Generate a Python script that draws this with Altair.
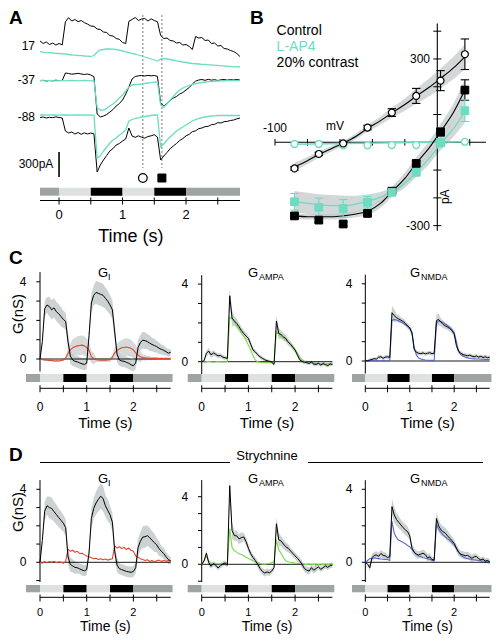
import altair as alt
import pandas as pd

M = 8
FONT = "Liberation Sans"
INK = "#000000"
TEAL = "#6cdcc2"
RED = "#e5452d"
GREEN = "#7cd948"
BLUE = "#5868c9"
BANDC = "#c3c9c9"

# ---------------- stimulus ----------------
STIM_LEVELS = ["mean", "bright", "dark"]
STIM_COLORS = ["#9ea4a4", "#dde1e1", "#000000"]
STIM_LEVEL = ["mean", "bright", "dark", "bright", "dark", "mean"]
STIM_START = [-0.3, 0.0, 0.5, 1.0, 1.5, 2.0]
STIM_END_A = [0.0, 0.5, 1.0, 1.5, 2.0, 2.85]
STIM_END_G = [0.0, 0.5, 1.0, 1.5, 2.0, 2.84]
TIME_TICKS = [0.0, 0.5, 1.0, 1.5, 2.0, 2.5]
TIME_LABELS = [0, 1, 2]

# ---------------- panel A (pA, relative to holding level) ----------------
T_A = [round(-0.3 + 0.05 * i, 2) for i in range(64)]
A_HOLD = ["17", "-37", "-88"]
A_P17_CTRL = [60, 30, 48, 18, 36, 12, 30, 14, 290, 340,
              300, 318, 292, 306, 280, 262, 240, 236, 204, 198,
              168, 162, 126, 120, 90, 80, 42, 30, 296, 318,
              342, 306, 324, 330, 300, 326, 306, 292, 126, 90,
              96, 66, 60, 36, 42, 12, 18, -6, -42, 114,
              96, 102, 66, 72, 30, 36, 0, 6, -30, -36,
              -54, -66, -90, -126]
A_P17_LAP4 = [-68, -74, -78, -80, -84, -88, -90, -94, -96, -102,
              -108, -110, -114, -116, -120, -122, -126, -114, -72, -48,
              -42, -36, -36, -38, -42, -50, -60, -70, -78, -88,
              -96, -108, -120, -132, -144, -156, -168, -180, -156, -150,
              -156, -162, -168, -178, -186, -192, -198, -204, -210, -213,
              -216, -220, -221, -226, -227, -232, -233, -238, -239, -244,
              -245, -250, -249, -253]
A_M37_CTRL = [-8, -4, -12, -6, -10, -2, -8, -6, 84, 78,
              70, 74, 80, 72, 66, 72, 60, 40, -408, -444,
              -432, -414, -384, -354, -312, -282, -240, -168, -84, 12,
              42, 50, 54, 48, 56, 50, 54, 44, -276, -312,
              -282, -246, -216, -198, -168, -150, -120, -90, -48, -14,
              0, 6, -4, 8, -2, 4, -6, 2, 6, -2,
              4, 0, 6, -2]
A_M37_LAP4 = [-6, -8, -10, -6, -8, -10, -8, -8, -10, -8,
              -6, -8, -10, -8, -6, -8, -10, -8, -336, -360,
              -362, -340, -312, -288, -252, -216, -180, -132, -84, -60,
              -54, -52, -48, -42, -36, -32, -26, -24, -300, -324,
              -288, -240, -198, -156, -120, -96, -78, -66, -54, -44,
              -36, -30, -24, -20, -18, -15, -12, -10, -9, -8,
              -8, -8, -8, -8]
A_M88_CTRL = [-30, -24, -36, -28, -32, -22, -30, -36, -192, -216,
              -204, -228, -210, -232, -214, -228, -216, -226, -684, -600,
              -540, -486, -432, -402, -360, -342, -312, -288, -156, -252,
              -268, -250, -266, -278, -258, -250, -236, -266, -540, -492,
              -450, -404, -372, -342, -306, -282, -250, -232, -200, -190,
              -164, -156, -140, -136, -116, -112, -92, -96, -80, -76,
              -66, -60, -46, -36]
A_M88_LAP4 = [0, 2, -2, 0, 2, 0, -2, 0, 2, 0,
              -2, 0, 2, 0, -2, 0, 0, -4, -516, -492,
              -432, -384, -336, -300, -276, -240, -216, -180, -72, -54,
              -42, -34, -24, -18, -12, -6, 0, 0, -384, -348,
              -300, -264, -228, -192, -168, -144, -120, -96, -72, -56,
              -42, -32, -24, -18, -12, -10, -6, -6, -6, -4,
              -6, -4, -6, -6]
A_CURSOR_T = [1.32, 1.62]
A_SCALEBAR_PA = 300

# ---------------- panel B (I-V) ----------------
B_V = [-88, -73, -58, -43, -28, -13, 2, 17]
B_CTRL_OPEN = [-94, -42, -4, 53, 107, 167, 222, 317]
B_CTRL_OPEN_ERR = [6, 6, 5, 8, 14, 27, 36, 55]
B_LAP4_OPEN = [-6, -6, -11, -11, -10, -10, -4, 2]
B_CTRL_SQ = [-265, -280, -294, -256, -176, -76, 37, 188]
B_CTRL_SQ_ERR = [8, 8, 8, 8, 8, 10, 14, 37]
B_LAP4_SQ = [-214, -234, -238, -216, -180, -108, -1, 114]
B_LAP4_SQ_ERR = [30, 33, 32, 21, 10, 10, 14, 39]
B_VFIT = [-88, -80, -73, -65, -58, -50, -43, -35, -28, -20, -13, -5, 2, 10, 17]
B_FIT_OPEN = [-88, -66, -44, -22, -3, 22, 50, 78, 106, 136, 166, 198, 230, 268, 308]
B_FIT_OPEN_HW = [15, 13, 12, 10, 9, 10, 12, 15, 18, 22, 27, 32, 36, 40, 45]
B_FIT_SQ = [-265, -268, -268, -268, -265, -258, -248, -220, -178, -130, -76, -20, 38, 108, 188]
B_FIT_SQ_HW = [10, 10, 10, 10, 10, 12, 14, 16, 18, 20, 22, 25, 28, 32, 38]
B_FIT_SQ_LAP4 = [-213, -220, -225, -228, -228, -222, -212, -197, -178, -148, -108, -58, -5, 50, 110]
B_FIT_SQ_LAP4_HW = [38, 38, 38, 38, 36, 30, 24, 18, 15, 15, 17, 20, 24, 30, 38]
B_VFIT_FLAT = [-88, 17]
B_FIT_OPEN_LAP4 = [-7, 2]
B_XTICKS = [-100, -80, -60, -40, -20, 20]
B_YTICKS = [-300, -200, -100, 100, 200, 300, 400]
B_LEGEND = ["Control", "L-AP4", "20% contrast"]

# ---------------- panels C / D (nS) ----------------
T_G = [round(0.05 * i, 2) for i in range(57)]
C_GI_CTRL = [0.0, 0.9, 2.6, 2.8, 2.72, 2.55, 2.65, 2.45, 2.35, 2.2,
             2.05, 1.95, 0.9, 0.15, -0.05, -0.12, -0.15, -0.2, -0.25, -0.28,
             -0.22, 1.2, 2.9, 3.3, 3.45, 3.4, 3.35, 3.3, 3.15, 3.0,
             2.8, 2.55, 1.4, 0.25, -0.05, -0.1, -0.12, -0.17, -0.22, -0.3,
             -0.35, -0.2, 0.6, 0.85, 0.98, 0.95, 0.9, 0.82, 0.75, 0.7,
             0.64, 0.56, 0.5, 0.45, 0.38, 0.3, 0.35]
C_GI_OTHER = [0.0, -0.03, -0.05, -0.06, -0.08, -0.07, -0.1, -0.09, -0.1, -0.08,
              -0.05, 0.05, 0.3, 0.47, 0.58, 0.64, 0.68, 0.7, 0.72, 0.68,
              0.6, 0.45, 0.12, 0.02, -0.04, -0.05, -0.06, -0.05, -0.06, -0.05,
              -0.04, 0.1, 0.32, 0.45, 0.52, 0.58, 0.6, 0.62, 0.6, 0.55,
              0.47, 0.32, 0.2, 0.12, 0.08, 0.06, 0.05, 0.04, 0.03, 0.03,
              0.04, 0.02, 0.03, 0.02, 0.03, 0.02, 0.03]
C_AMPA_CTRL = [0.0, 0.05, 0.43, 0.55, 0.35, 0.45, 0.38, 0.3, 0.32, 0.24,
               0.2, 0.17, 3.4, 2.25, 2.1, 1.97, 1.8, 1.6, 1.45, 1.32,
               1.2, 0.9, 0.6, 0.5, 0.36, 0.25, 0.17, 0.1, 0.05, 0.02,
               -0.03, -0.14, 2.1, 1.45, 1.4, 1.28, 1.2, 1.02, 0.9, 0.75,
               0.6, 0.35, 0.1, 0.02, -0.03, -0.05, -0.09, -0.02, -0.12, -0.14,
               -0.08, -0.17, -0.1, -0.15, -0.2, -0.12, -0.14]
C_AMPA_OTHER = [0.0, -0.02, 0.0, 0.02, 0.0, -0.02, 0.0, 0.01, 0.0, -0.01,
                0.0, 0.01, 2.3, 2.2, 2.05, 1.85, 1.65, 1.48, 1.3, 1.1,
                0.85, 0.6, 0.3, 0.08, 0.0, -0.03, -0.05, -0.05, -0.06, -0.05,
                -0.05, -0.04, 1.55, 1.4, 1.3, 1.22, 1.12, 1.02, 0.93, 0.8,
                0.62, 0.45, 0.25, 0.1, 0.0, -0.05, -0.07, -0.08, -0.1, -0.09,
                -0.1, -0.11, -0.1, -0.12, -0.1, -0.11, -0.1]
C_NMDA_CTRL = [0.0, 0.02, 0.05, 0.08, 0.12, 0.1, 0.2, 0.22, 0.14, 0.2,
               0.22, 0.18, 2.5, 2.35, 2.25, 2.18, 2.12, 2.05, 1.95, 1.82,
               1.72, 1.45, 0.6, 0.45, 0.4, 0.38, 0.42, 0.37, 0.4, 0.43,
               0.38, 0.4, 2.1, 2.15, 2.02, 1.9, 1.82, 1.76, 1.68, 1.58,
               1.4, 0.8, 0.5, 0.4, 0.33, 0.3, 0.27, 0.3, 0.25, 0.22,
               0.26, 0.2, 0.24, 0.18, 0.22, 0.17, 0.2]
C_NMDA_OTHER = [0.0, 0.01, 0.0, 0.02, 0.01, 0.02, 0.0, 0.01, 0.02, 0.01,
                0.0, 0.01, 2.1, 2.15, 2.12, 2.08, 2.02, 1.96, 1.88, 1.8,
                1.68, 1.48, 0.7, 0.3, 0.16, 0.1, 0.07, 0.05, 0.04, 0.03,
                0.03, 0.02, 1.95, 2.08, 2.05, 2.0, 1.92, 1.84, 1.74, 1.62,
                1.48, 1.0, 0.5, 0.33, 0.25, 0.2, 0.16, 0.14, 0.12, 0.11,
                0.1, 0.1, 0.09, 0.09, 0.08, 0.08, 0.08]
D_GI_CTRL = [0.0, 1.2, 2.8, 3.1, 3.0, 2.95, 2.78, 2.62, 2.45, 2.3,
             2.14, 1.9, 0.3, -0.12, -0.2, -0.28, -0.3, -0.36, -0.42, -0.47,
             -0.4, 0.5, 2.4, 2.95, 3.25, 3.45, 3.62, 3.5, 3.1, 2.85,
             2.6, 2.2, 0.6, -0.15, -0.35, -0.4, -0.45, -0.5, -0.52, -0.55,
             -0.5, -0.3, 0.8, 1.15, 1.38, 1.4, 1.46, 1.35, 1.2, 1.08,
             0.95, 0.75, 0.6, 0.48, 0.3, 0.15, 0.08]
D_GI_OTHER = [0.0, -0.05, 0.05, -0.03, 0.04, 0.0, 0.06, -0.02, 0.03, 0.0,
              -0.05, 0.05, 0.72, 0.6, 0.66, 0.55, 0.6, 0.48, 0.5, 0.42,
              0.35, 0.3, 0.25, 0.2, 0.22, 0.15, 0.2, 0.14, 0.18, 0.12,
              0.16, 0.2, 0.9, 0.78, 0.85, 0.75, 0.82, 0.7, 0.78, 0.66,
              0.6, 0.35, 0.28, 0.2, 0.15, 0.1, 0.14, 0.05, 0.1, 0.02,
              0.08, 0.12, 0.05, 0.1, 0.06, 0.1, 0.08]
D_AMPA_CTRL = [0.0, 0.2, 0.65, 0.1, -0.12, 0.05, -0.05, -0.22, -0.08, 0.02,
               0.08, -0.05, 4.65, 2.0, 1.7, 1.68, 1.5, 1.58, 1.62, 1.35,
               0.95, 0.62, 0.4, 0.22, 0.0, -0.25, -0.42, -0.52, -0.45, -0.5,
               -0.4, -0.2, 2.4, 1.45, 1.38, 1.2, 1.04, 0.95, 0.8, 0.65,
               0.5, 0.35, 0.2, 0.0, -0.25, -0.35, -0.4, -0.2, -0.35, -0.25,
               -0.15, -0.3, -0.2, -0.1, -0.18, -0.08, -0.05]
D_AMPA_OTHER = [0.0, 0.2, 0.5, 0.2, 0.08, 0.05, 0.03, 0.05, 0.02, 0.05,
                0.08, 0.1, 2.1, 1.0, 0.8, 0.72, 0.62, 0.58, 0.5, 0.42,
                0.35, 0.28, 0.2, 0.15, 0.1, 0.05, 0.02, 0.0, 0.03, 0.05,
                0.1, 0.15, 1.45, 0.85, 0.65, 0.4, 0.2, 0.15, 0.12, 0.1,
                0.08, 0.05, 0.06, 0.03, 0.0, -0.02, 0.02, -0.03, 0.0, -0.05,
                -0.02, -0.04, 0.0, -0.05, -0.02, -0.03, -0.01]
D_NMDA_CTRL = [0.0, -0.1, -0.3, 0.25, 0.38, 0.4, 0.33, 0.48, 0.38, 0.35,
               0.26, 0.3, 3.05, 2.6, 2.35, 2.2, 2.05, 1.9, 1.78, 1.68,
               1.45, 0.78, 0.55, 0.45, 0.4, 0.45, 0.5, 0.42, 0.25, 0.3,
               0.15, 0.12, 2.4, 2.0, 1.78, 1.68, 1.6, 1.45, 1.32, 1.18,
               1.04, 0.78, 0.55, 0.45, 0.4, 0.36, 0.38, 0.3, 0.22, 0.3,
               0.32, 0.2, 0.13, 0.18, 0.07, 0.1, 0.02]
D_NMDA_OTHER = [0.0, 0.1, 0.2, 0.22, 0.25, 0.22, 0.2, 0.18, 0.17, 0.15,
                0.15, 0.1, 2.25, 1.6, 1.35, 1.22, 1.15, 1.08, 1.02, 0.92,
                0.85, 0.7, 0.55, 0.42, 0.35, 0.3, 0.25, 0.22, 0.2, 0.16,
                0.12, 0.08, 2.08, 1.8, 1.65, 1.5, 1.4, 1.3, 1.2, 1.08,
                0.95, 0.75, 0.55, 0.38, 0.3, 0.24, 0.2, 0.18, 0.15, 0.13,
                0.12, 0.1, 0.08, 0.07, 0.06, 0.05, 0.05]
# SEM half-widths, one per 0.1 s
C_GI_HW = [0.05, 0.4, 0.5, 0.5, 0.5, 0.45, 0.4, 0.3, 0.3, 0.3, 0.3, 0.5, 0.6, 0.6, 0.55,
           0.5, 0.4, 0.3, 0.3, 0.3, 0.3, 0.4, 0.43, 0.4, 0.35, 0.3, 0.25, 0.2, 0.15]
C_GI_OTHER_HW = [0.05, 0.05, 0.05, 0.05, 0.05, 0.05, 0.3, 0.45, 0.5, 0.5, 0.45, 0.3, 0.1, 0.1, 0.1,
                 0.1, 0.3, 0.4, 0.45, 0.45, 0.4, 0.3, 0.15, 0.1, 0.08, 0.06, 0.05, 0.05, 0.05]
C_AMPA_HW = [0.05, 0.15, 0.15, 0.12, 0.12, 0.1, 0.4, 0.25, 0.2, 0.18, 0.15, 0.12, 0.1, 0.1, 0.08,
             0.08, 0.3, 0.2, 0.18, 0.15, 0.12, 0.1, 0.1, 0.08, 0.1, 0.1, 0.1, 0.1, 0.1]
C_NMDA_HW = [0.05, 0.08, 0.08, 0.1, 0.1, 0.1, 0.35, 0.2, 0.15, 0.15, 0.15, 0.12, 0.1, 0.1, 0.1,
             0.1, 0.3, 0.2, 0.15, 0.15, 0.15, 0.12, 0.1, 0.1, 0.1, 0.1, 0.1, 0.1, 0.1]
D_GI_HW = [0.05, 0.5, 0.6, 0.55, 0.5, 0.45, 0.4, 0.35, 0.3, 0.3, 0.3, 0.55, 0.65, 0.7, 0.6,
           0.5, 0.4, 0.3, 0.3, 0.3, 0.3, 0.5, 0.6, 0.55, 0.5, 0.4, 0.3, 0.25, 0.2]
D_AMPA_HW = [0.05, 0.2, 0.15, 0.15, 0.15, 0.15, 0.5, 0.3, 0.3, 0.25, 0.2, 0.2, 0.2, 0.2, 0.2,
             0.15, 0.4, 0.3, 0.25, 0.2, 0.2, 0.2, 0.2, 0.2, 0.2, 0.15, 0.15, 0.15, 0.15]
D_NMDA_HW = [0.05, 0.2, 0.2, 0.2, 0.2, 0.15, 0.45, 0.35, 0.3, 0.3, 0.25, 0.2, 0.2, 0.2, 0.2,
             0.15, 0.35, 0.3, 0.3, 0.25, 0.2, 0.2, 0.2, 0.2, 0.2, 0.15, 0.15, 0.15, 0.15]
G_TICKS_C = [0, 1, 2, 3, 4]
G_TICKS_D = [-1, 0, 1, 2, 3, 4]

# ======================= drawing helpers =======================
layers = []


def sc(d0, d1, p0, p1):
    return alt.Scale(domain=[d0, d1], range=[p0 - M, p1 - M], nice=False, zero=False)


def line(x, y, xs, ys, color, width=1.0, dash=None, interp="linear", opacity=1.0):
    df = pd.DataFrame({"x": x, "y": y})
    props = dict(color=color, strokeWidth=width, interpolate=interp, opacity=opacity,
                 strokeJoin="round")
    if dash:
        props["strokeDash"] = dash
    layers.append(alt.Chart(df).mark_line(**props).encode(
        x=alt.X("x:Q", scale=xs, axis=None), y=alt.Y("y:Q", scale=ys, axis=None)))


def band(x, lo, hi, xs, ys, color=BANDC, opacity=0.85, interp="linear"):
    df = pd.DataFrame({"x": x, "lo": lo, "hi": hi})
    layers.append(alt.Chart(df).mark_area(color=color, opacity=opacity, interpolate=interp).encode(
        x=alt.X("x:Q", scale=xs, axis=None), y=alt.Y("lo:Q", scale=ys, axis=None), y2="hi:Q"))


def segs(x1, y1, x2, y2, xs, ys, color=INK, width=1.0, dash=None):
    df = pd.DataFrame({"x1": x1, "y1": y1, "x2": x2, "y2": y2})
    props = dict(color=color, strokeWidth=width)
    if dash:
        props["strokeDash"] = dash
    layers.append(alt.Chart(df).mark_rule(**props).encode(
        x=alt.X("x1:Q", scale=xs, axis=None), y=alt.Y("y1:Q", scale=ys, axis=None),
        x2="x2:Q", y2="y2:Q"))


def texts(x, y, labels, xs, ys, size=12, color=INK, align="center", baseline="middle",
          angle=0, weight="normal"):
    df = pd.DataFrame({"x": x, "y": y, "label": labels})
    layers.append(alt.Chart(df).mark_text(font=FONT, fontSize=size, color=color, align=align,
                                          baseline=baseline, angle=angle, fontWeight=weight).encode(
        x=alt.X("x:Q", scale=xs, axis=None), y=alt.Y("y:Q", scale=ys, axis=None), text="label:N"))


def ptext(px, py, label, size=12, color=INK, align="left", baseline="alphabetic", angle=0,
          weight="normal"):
    df = pd.DataFrame({"label": [label]})
    layers.append(alt.Chart(df).mark_text(font=FONT, fontSize=size, color=color, align=align,
                                          baseline=baseline, angle=angle, fontWeight=weight).encode(
        x=alt.value(px - M), y=alt.value(py - M), text="label:N"))


def prule(px1, px2, py, width=1.0):
    df = pd.DataFrame({"k": [0]})
    layers.append(alt.Chart(df).mark_rule(color=INK, strokeWidth=width).encode(
        x=alt.value(px1 - M), x2=alt.value(px2 - M), y=alt.value(py - M)))


def points(x, y, xs, ys, shape, size, fill, stroke, sw=1.0):
    df = pd.DataFrame({"x": x, "y": y})
    layers.append(alt.Chart(df).mark_point(shape=shape, size=size, filled=True, fill=fill,
                                           stroke=stroke, strokeWidth=sw, opacity=1).encode(
        x=alt.X("x:Q", scale=xs, axis=None), y=alt.Y("y:Q", scale=ys, axis=None)))


def stim(ends, xs, ys):
    df = pd.DataFrame({"s": STIM_START, "e": ends, "level": STIM_LEVEL})
    layers.append(alt.Chart(df).mark_rect().encode(
        x=alt.X("s:Q", scale=xs, axis=None), x2="e:Q",
        y=alt.YDatum(0, type="quantitative", scale=ys, axis=None), y2=alt.datum(1),
        color=alt.Color("level:N", scale=alt.Scale(domain=STIM_LEVELS, range=STIM_COLORS),
                        legend=None)))


def time_axis(xs, bar_px, x_from, x_to, line_py, tick_py, lab_py, title_py, title_t,
              lab_size, title_size):
    b0, b1 = bar_px

    def bu(py):
        return (b0 - py) / (b0 - b1)
    ys = sc(0, 1, b0, b1)
    segs([x_from], [bu(line_py)], [x_to], [bu(line_py)], xs, ys, width=1.0)
    n = len(TIME_TICKS)
    segs(TIME_TICKS, [bu(tick_py[0])] * n, TIME_TICKS, [bu(tick_py[1])] * n, xs, ys, width=1.0)
    texts(TIME_LABELS, [bu(lab_py)] * len(TIME_LABELS), [str(v) for v in TIME_LABELS], xs, ys,
          size=lab_size)
    texts([title_t], [bu(title_py)], ["Time (s)"], xs, ys, size=title_size)


# ======================= panel A =======================
A_XS = sc(-0.3, 2.85, 40, 240)
A_Y0, A_PPX = 46, 12.0          # pixel row of 17 mV level, pA per pixel
A_YS = sc(-1700, 300, A_Y0 + 1700 / A_PPX, A_Y0 - 300 / A_PPX)
A_LEVEL_PX = [46, 80, 115]


def a_disp(py):
    return (A_Y0 - py) * A_PPX


A_OFFSETS = [a_disp(p) for p in A_LEVEL_PX]
A_BAR = (195.7, 187.7)

segs(A_CURSOR_T, [a_disp(15)] * 2, A_CURSOR_T, [a_disp(168)] * 2, A_XS, A_YS,
     color="#555555", width=0.8, dash=[2, 2])
for ctrl, lap4, off in [(A_P17_CTRL, A_P17_LAP4, A_OFFSETS[0]),
                        (A_M37_CTRL, A_M37_LAP4, A_OFFSETS[1]),
                        (A_M88_CTRL, A_M88_LAP4, A_OFFSETS[2])]:
    line(T_A, [v + off for v in ctrl], A_XS, A_YS, INK, 1.0)
    line(T_A, [v + off for v in lap4], A_XS, A_YS, TEAL, 1.3)
texts([-0.378] * 3, [a_disp(46), a_disp(80), a_disp(117)], A_HOLD, A_XS, A_YS, size=12,
      align="right")
sb_top = a_disp(152)
segs([0], [sb_top], [0], [sb_top - A_SCALEBAR_PA], A_XS, A_YS, width=1.6)
texts([-0.09], [a_disp(164)], ["300pA"], A_XS, A_YS, size=12, align="right")
points([A_CURSOR_T[0]], [a_disp(178)], A_XS, A_YS, "circle", 75, "white", INK, 1.2)
points([A_CURSOR_T[1]], [a_disp(178)], A_XS, A_YS, "square", 64, INK, INK, 1.0)
stim(STIM_END_A, A_XS, sc(0, 1, A_BAR[0], A_BAR[1]))
time_axis(A_XS, A_BAR, -0.3, 2.85, 200.5, (197.5, 204.5), 215, 236.5, 1.13, 13, 18)

# ======================= panel B =======================
B_XS = sc(-105, 35, 437.3 - 105 * 1.623, 437.3 + 35 * 1.623)
B_YS = sc(-330, 440, 142.3 + 330 * 0.2778, 142.3 - 440 * 0.2778)

for fit, hw in [(B_FIT_OPEN, B_FIT_OPEN_HW), (B_FIT_SQ_LAP4, B_FIT_SQ_LAP4_HW),
                (B_FIT_SQ, B_FIT_SQ_HW)]:
    band(B_VFIT, [f - h for f, h in zip(fit, hw)], [f + h for f, h in zip(fit, hw)],
         B_XS, B_YS, opacity=0.75, interp="monotone")
segs([-100], [0], [30], [0], B_XS, B_YS, width=1.1)
segs([0], [-318], [0], [428], B_XS, B_YS, width=1.1)
segs(B_XTICKS, [-12] * len(B_XTICKS), B_XTICKS, [12] * len(B_XTICKS), B_XS, B_YS)
segs([-2.5] * len(B_YTICKS), B_YTICKS, [2.5] * len(B_YTICKS), B_YTICKS, B_XS, B_YS)
line(B_VFIT, B_FIT_OPEN, B_XS, B_YS, INK, 1.1, interp="monotone")
line(B_VFIT_FLAT, B_FIT_OPEN_LAP4, B_XS, B_YS, TEAL, 1.3)
line(B_VFIT, B_FIT_SQ_LAP4, B_XS, B_YS, TEAL, 1.3, interp="monotone")
line(B_VFIT, B_FIT_SQ, B_XS, B_YS, INK, 1.1, interp="monotone")
for vals, errs, col in [(B_CTRL_OPEN, B_CTRL_OPEN_ERR, INK), (B_CTRL_SQ, B_CTRL_SQ_ERR, INK),
                        (B_LAP4_SQ, B_LAP4_SQ_ERR, TEAL)]:
    lo = [v - e for v, e in zip(vals, errs)]
    hi = [v + e for v, e in zip(vals, errs)]
    segs(B_V, lo, B_V, hi, B_XS, B_YS, color=col, width=1.1)
    segs([v - 2.6 for v in B_V], lo, [v + 2.6 for v in B_V], lo, B_XS, B_YS, color=col, width=1.1)
    segs([v - 2.6 for v in B_V], hi, [v + 2.6 for v in B_V], hi, B_XS, B_YS, color=col, width=1.1)
points(B_V, B_LAP4_OPEN, B_XS, B_YS, "circle", 48, "white", TEAL, 1.3)
points(B_V, B_CTRL_OPEN, B_XS, B_YS, "circle", 48, "white", INK, 1.2)
points(B_V, B_CTRL_SQ, B_XS, B_YS, "square", 60, INK, INK, 1.0)
points(B_V, B_LAP4_SQ, B_XS, B_YS, "square", 60, TEAL, TEAL, 1.0)
texts([-100], [51], ["-100"], B_XS, B_YS, size=12)
texts([-63], [57], ["mV"], B_XS, B_YS, size=12)
texts([-4.5, -4.5], [300, -300], ["300", "-300"], B_XS, B_YS, size=12, align="right")
texts([4.5], [-196], ["pA"], B_XS, B_YS, size=12, angle=270)
texts([-99, -99], [402, 285], [B_LEGEND[0], B_LEGEND[2]], B_XS, B_YS, size=14, align="left")
texts([-99], [343], [B_LEGEND[1]], B_XS, B_YS, size=14, align="left", color=TEAL)

# ======================= panels C & D =======================


def g_panel(xpix, zero_px, ppn, bar_px, ax_lo, ax_hi, yticks, black, black_hw, other,
            other_color, other_hw, axis_px, lab_size, title_size):
    xs = sc(-0.3, 2.84, xpix[0], xpix[1])
    ys = sc(-2, 6, zero_px + 2 * ppn, zero_px - 6 * ppn)
    n = len(T_G)
    if other_hw is not None:
        hw = [other_hw[i // 2] for i in range(n)]
        band(T_G, [v - h for v, h in zip(other, hw)], [v + h for v, h in zip(other, hw)],
             xs, ys, opacity=0.7)
    hw = [black_hw[i // 2] for i in range(n)]
    band(T_G, [v - h for v, h in zip(black, hw)], [v + h for v, h in zip(black, hw)], xs, ys,
         opacity=0.85)
    segs([0], [0], [2.8], [0], xs, ys, width=0.9)
    segs([0], [ax_lo], [0], [ax_hi], xs, ys, width=1.0)
    segs([-0.08] * len(yticks), yticks, [0] * len(yticks), yticks, xs, ys, width=1.0)
    texts([-0.29, -0.29], [0, 4], ["0", "4"], xs, ys, size=12, align="right")
    line(T_G, other, xs, ys, other_color, 1.1)
    line(T_G, black, xs, ys, INK, 1.0)
    stim(STIM_END_G, xs, sc(0, 1, bar_px[0], bar_px[1]))
    time_axis(xs, bar_px, 0.0, 2.8, axis_px[0], axis_px[1], axis_px[2], axis_px[3], 1.4,
              lab_size, title_size)


X_COLS = [(26.0, 172.6), (187.7, 334.3), (352.0, 491.5)]
C_BAR = (382.0, 374.0)
C_AXIS = (388.3, (385.3, 392.3), 407, 423)
D_BAR = (592.3, 585.0)
D_AXIS = (597.3, (594.5, 601.5), 612.5, 627.0)

g_panel(X_COLS[0], 359.0, 19.3, C_BAR, -0.65, 4.5, G_TICKS_C, C_GI_CTRL, C_GI_HW,
        C_GI_OTHER, RED, C_GI_OTHER_HW, C_AXIS, 12, 15)
g_panel(X_COLS[1], 361.7, 19.4, C_BAR, -0.65, 4.46, G_TICKS_C, C_AMPA_CTRL, C_AMPA_HW,
        C_AMPA_OTHER, GREEN, None, C_AXIS, 12, 15)
g_panel(X_COLS[2], 361.0, 19.3, C_BAR, -0.65, 4.47, G_TICKS_C, C_NMDA_CTRL, C_NMDA_HW,
        C_NMDA_OTHER, BLUE, None, C_AXIS, 12, 15)
g_panel(X_COLS[0], 562.3, 18.25, D_BAR, -1.08, 4.5, G_TICKS_D, D_GI_CTRL, D_GI_HW,
        D_GI_OTHER, RED, None, D_AXIS, 11, 14)
g_panel(X_COLS[1], 564.3, 16.9, D_BAR, -1.05, 4.98, G_TICKS_D, D_AMPA_CTRL, D_AMPA_HW,
        D_AMPA_OTHER, GREEN, None, D_AXIS, 11, 14)
g_panel(X_COLS[2], 562.3, 18.25, D_BAR, -1.08, 4.5, G_TICKS_D, D_NMDA_CTRL, D_NMDA_HW,
        D_NMDA_OTHER, BLUE, None, D_AXIS, 11, 14)

# ======================= annotations =======================
for letter, px, py in [("A", 9, 24), ("B", 250, 24), ("C", 9, 264), ("D", 9, 461)]:
    ptext(px, py, letter, size=19, weight="bold")
for base_y, sub_y in [(276.5, 279.5), (483.0, 486.0)]:
    for gx, sx_, sub in [(98, 108, "I"), (248, 259, "AMPA"), (410, 421, "NMDA")]:
        ptext(gx, base_y, "G", size=13)
        ptext(sx_, sub_y, sub, size=9)
ptext(18, 314, "G(nS)", size=15, align="center", baseline="middle", angle=270)
ptext(18, 512, "G(nS)", size=15, align="center", baseline="middle", angle=270)
ptext(267, 460, "Strychnine", size=13, align="center")
prule(40, 230, 462.5)
prule(308, 483, 462.5)

chart = alt.layer(*layers).resolve_scale(
    x="independent", y="independent", color="independent"
).properties(
    width=484, height=626, padding=0, autosize=alt.AutoSizeParams(type="none")
).configure_view(stroke=None)

chart.save("out.html", embed_options={"renderer": "svg", "actions": False})
